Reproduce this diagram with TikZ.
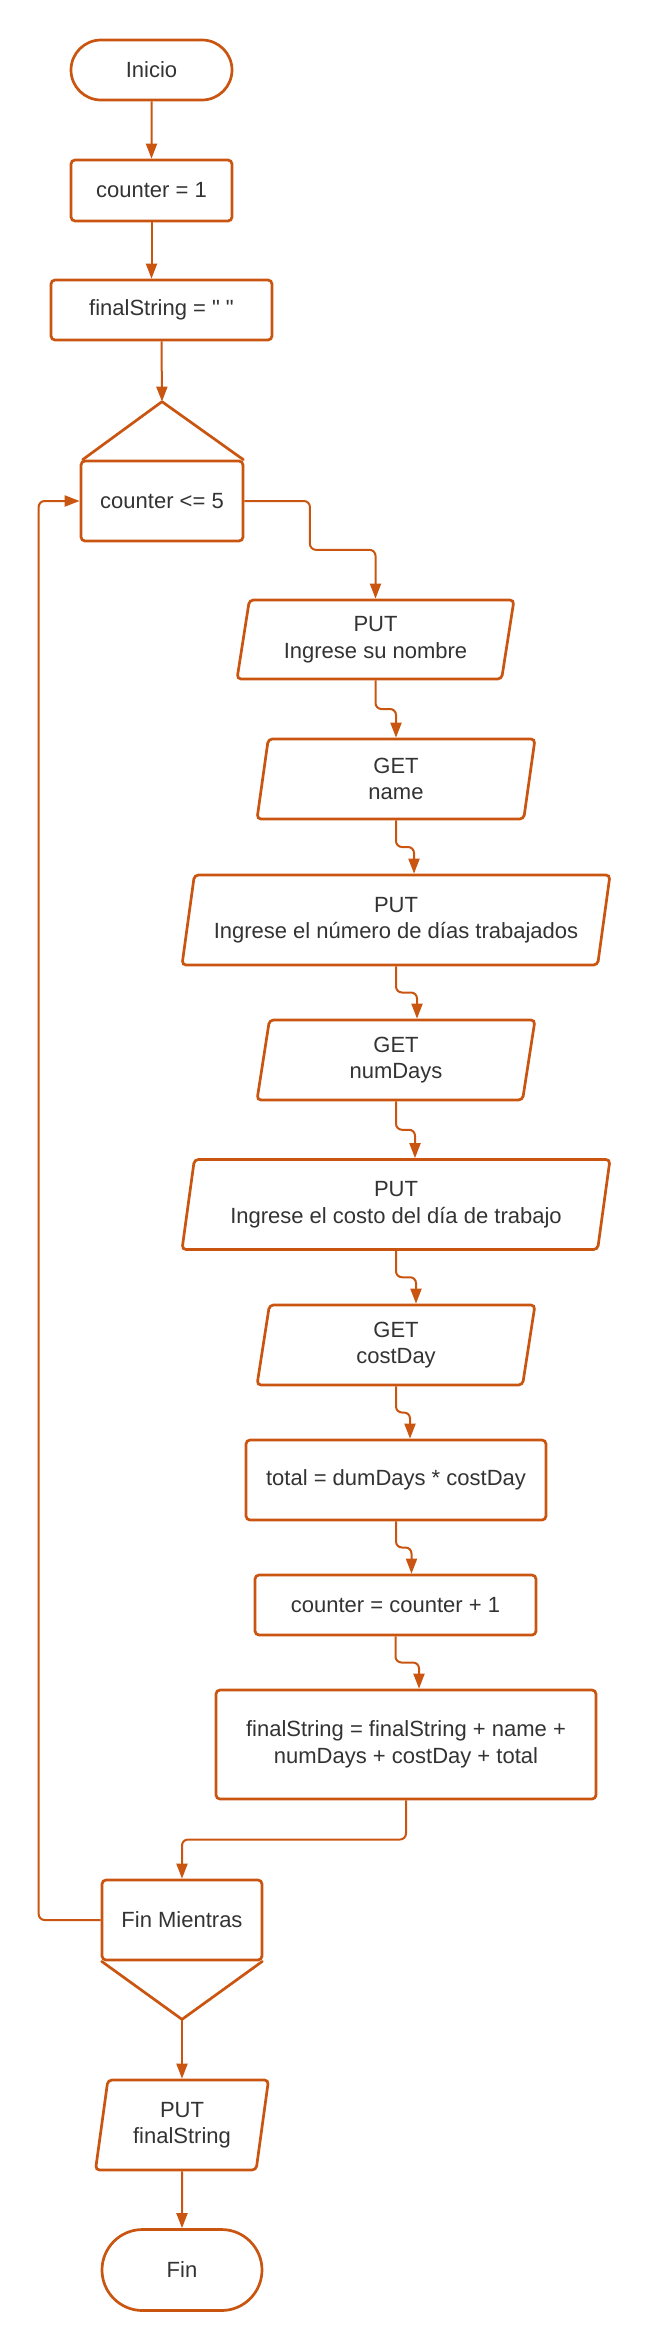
\documentclass[tikz,border=0pt]{standalone}
\usepackage{fontspec}
\setmainfont{Liberation Sans}
\usepackage{xcolor}
\definecolor{fcLine}{RGB}{201, 85, 16}
\definecolor{fcText}{RGB}{51, 51, 51}
\usepackage{tikz}
\usetikzlibrary{
    shapes.geometric,
    shapes.misc,
    arrows.meta,
    positioning,
    calc
}

\begin{document}
\begin{tikzpicture}[
    x=1pt, y=-1pt,
    baseBox/.style={
        draw=fcLine, line width=2.7pt,
        fill=white, text=fcText,
        font=\fontsize{22}{26.5}\selectfont, align=center,
        inner sep=0pt
    },
    termBox/.style={
        baseBox, rounded rectangle,
        minimum width=161pt, minimum height=60pt
    },
    procBox/.style={
        baseBox, rectangle, rounded corners=4pt
    },
    ioBox/.style={
        baseBox, trapezium, rounded corners=4pt,
        trapezium left angle=75, trapezium right angle=105,
        trapezium stretches body
    },
    shapeLine/.style={
        draw=fcLine, line width=2.7pt, line join=round, line cap=round
    },
    flowArrow/.style={
        draw=fcLine, line width=2pt, rounded corners=6pt,
        -{Triangle[width=11pt, length=15pt]}
    }
]
    \useasboundingbox (0,0) rectangle (652,2350);

    % Start and initialisation
    \node[termBox] (inicio) at (151.5, 70) {Inicio};
    \node[procBox, minimum width=161pt, minimum height=61pt] (cntInit) at (151.5, 190.5) {counter = 1};
    \node[procBox, minimum width=221pt, minimum height=60pt] (strInit) at (161.5, 310) {finalString = \textquotedbl{} \textquotedbl};

    % Loop head
    \node[procBox, minimum width=162pt, minimum height=80pt] (whileTop) at (162, 501) {counter <= 5};
    \coordinate (whileApex) at ([yshift=58pt]whileTop.north);
    \draw[shapeLine] ([xshift=3pt]whileTop.north west) -- (whileApex) -- ([xshift=-1pt]whileTop.north east);

    % Loop body
    \node[ioBox, minimum width=277pt, minimum height=79pt] (putName) at (375.5, 639.5) {PUT\\Ingrese su nombre};
    \node[ioBox, minimum width=278pt, minimum height=80pt] (getName) at (396, 779) {GET\\name};
    \node[ioBox, minimum width=428pt, minimum height=90pt] (putDays) at (396, 920) {PUT\\Ingrese el número de días trabajados};
    \node[ioBox, minimum width=278pt, minimum height=80pt] (getDays) at (396, 1060) {GET\\numDays};
    \node[ioBox, minimum width=428pt, minimum height=90pt] (putCost) at (396, 1204.5) {PUT\\Ingrese el costo del día de trabajo};
    \node[ioBox, minimum width=278pt, minimum height=80pt] (getCost) at (396, 1345) {GET\\costDay};
    \node[procBox, minimum width=300pt, minimum height=80pt] (calcTotal) at (396, 1480) {total = dumDays * costDay};
    \node[procBox, minimum width=281pt, minimum height=60pt] (cntStep) at (395.5, 1605) {counter = counter + 1};
    \node[procBox, minimum width=380pt, minimum height=109pt] (strStep) at (406, 1744.5) {finalString = finalString + name +\\numDays + costDay + total};

    % Loop end
    \node[procBox, minimum width=160pt, minimum height=80pt] (whileEnd) at (182, 1920) {Fin Mientras};
    \coordinate (whileEndApex) at ([yshift=-58pt]whileEnd.south);
    \draw[shapeLine] ([xshift=1pt]whileEnd.south west) -- (whileEndApex) -- ([xshift=-1pt]whileEnd.south east);

    % Output and end
    \node[ioBox, minimum width=173pt, minimum height=90pt] (putFinal) at (182, 2125) {PUT\\finalString};
    \node[termBox, minimum width=160pt, minimum height=81pt] (fin) at (182, 2270) {Fin};

    % Connectors
    \draw[flowArrow] (inicio) -- (cntInit);
    \draw[flowArrow] (cntInit.south) -- (cntInit.south |- strInit.north);
    \draw[flowArrow] (strInit.south) -- (whileApex);
    \draw[flowArrow] (whileTop.east) -| ($(whileTop.east)!.5!(putName.90)$) -| (putName.90);
    \draw[flowArrow] (putName.-90) -- ($(putName.-90)!.5!(putName.-90 |- getName.90)$) -| (getName.90);
    \draw[flowArrow] (getName.-90) -- ($(getName.-90)!.5!(getName.-90 |- putDays.90)$) -| ([xshift=18pt]putDays.90);
    \draw[flowArrow] (putDays.-90) -- ($(putDays.-90)!.5!(putDays.-90 |- getDays.90)$) -| ([xshift=21pt]getDays.90);
    \draw[flowArrow] (getDays.-90) -- ($(getDays.-90)!.5!(getDays.-90 |- putCost.90)$) -| ([xshift=19pt]putCost.90);
    \draw[flowArrow] (putCost.-90) -- ($(putCost.-90)!.5!(putCost.-90 |- getCost.90)$) -| ([xshift=20pt]getCost.90);
    \draw[flowArrow] (getCost.-90) -- ($(getCost.-90)!.5!(getCost.-90 |- calcTotal.north)$) -| ([xshift=14pt]calcTotal.north);
    \draw[flowArrow] (calcTotal.south) -- ($(calcTotal.south)!.5!(calcTotal.south |- cntStep.north)$) -| ([xshift=16pt]cntStep.north);
    \draw[flowArrow] (cntStep.south) -- ($(cntStep.south)!.5!(cntStep.south |- strStep.north)$) -| ([xshift=13pt]strStep.north);
    \draw[flowArrow] (strStep.south) -- ($(strStep.south)!.5!(strStep.south |- whileEnd.north)$) -| (whileEnd.north);
    \draw[flowArrow] (whileEnd.west) -- ++(-62,0) |- (whileTop.west);
    \draw[flowArrow] (whileEndApex) -- (putFinal.90);
    \draw[flowArrow] (putFinal.-90) -- (fin);

\end{tikzpicture}
\end{document}
